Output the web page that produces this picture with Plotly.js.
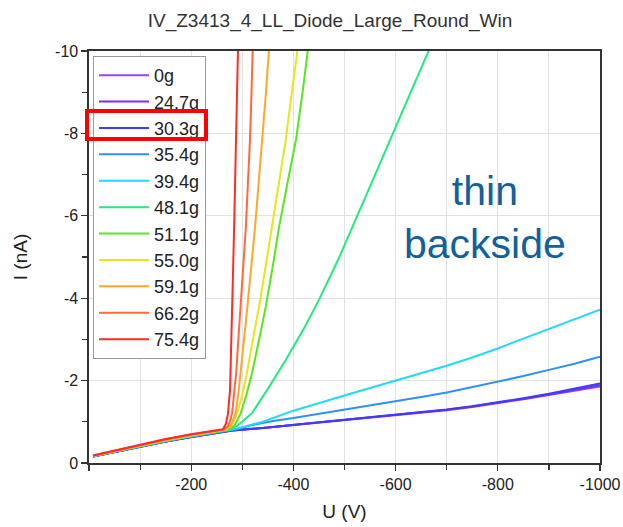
<!DOCTYPE html>
<html>
<head>
<meta charset="utf-8">
<script src="https://cdn.plot.ly/plotly-3.0.1.min.js"></script>
<style>
  html, body { margin: 0; padding: 0; background: #ffffff; }
  #chart { width: 623px; height: 527px; }
</style>
</head>
<body>
<div id="chart"></div>
<script>
// IV curves of the Z3413_4 LL large round-window diode, one sweep per applied load.
var loadLabels = ['0g', '24.7g', '30.3g', '35.4g', '39.4g', '48.1g', '51.1g', '55.0g', '59.1g', '66.2g', '75.4g'];
var lineColors = ['#a040ff', '#7a2cff', '#3c3cff', '#2e8fff', '#22d8ff', '#20ea80', '#5ae61e', '#e6e61a', '#ffa62c', '#ff6a3c', '#ff2a2a'];

// Bias voltage U (V) and current I (nA) for each sweep
var u_0g   = [-8, -50, -100, -150, -200, -250, -280, -350, -400, -450, -500, -550, -600, -650, -700, -750, -800, -850, -900, -950, -1000];
var i_0g   = [-0.16, -0.27, -0.40, -0.52, -0.63, -0.73, -0.79, -0.86, -0.92, -0.97, -1.03, -1.09, -1.15, -1.21, -1.28, -1.36, -1.45, -1.55, -1.65, -1.75, -1.86];
var u_24_7 = [-8, -50, -100, -150, -200, -250, -280, -350, -400, -450, -500, -550, -600, -650, -700, -750, -800, -850, -900, -950, -1000];
var i_24_7 = [-0.16, -0.27, -0.40, -0.52, -0.63, -0.73, -0.79, -0.86, -0.92, -0.98, -1.04, -1.10, -1.16, -1.22, -1.29, -1.37, -1.46, -1.56, -1.66, -1.77, -1.89];
var u_30_3 = [-8, -50, -100, -150, -200, -250, -280, -350, -400, -450, -500, -550, -600, -650, -700, -750, -800, -850, -900, -950, -1000];
var i_30_3 = [-0.16, -0.27, -0.40, -0.52, -0.63, -0.73, -0.79, -0.86, -0.93, -0.99, -1.05, -1.11, -1.17, -1.23, -1.30, -1.38, -1.47, -1.57, -1.68, -1.80, -1.93];
var u_35_4 = [-8, -50, -100, -150, -200, -250, -285, -320, -360, -400, -450, -500, -550, -600, -650, -700, -750, -800, -850, -900, -950, -1000];
var i_35_4 = [-0.16, -0.27, -0.40, -0.53, -0.64, -0.74, -0.81, -0.92, -1.02, -1.09, -1.19, -1.29, -1.39, -1.49, -1.60, -1.71, -1.84, -1.97, -2.11, -2.26, -2.41, -2.58];
var u_39_4 = [-8, -50, -100, -150, -200, -250, -280, -300, -340, -400, -450, -500, -550, -600, -650, -700, -750, -800, -850, -900, -950, -1000];
var i_39_4 = [-0.17, -0.28, -0.41, -0.54, -0.65, -0.75, -0.81, -0.87, -1.00, -1.27, -1.46, -1.64, -1.82, -2.00, -2.18, -2.36, -2.56, -2.78, -3.02, -3.25, -3.48, -3.72];
var u_48_1 = [-8, -50, -100, -150, -200, -250, -275, -290, -319, -350, -385, -420, -450, -490, -522, -560, -600, -635, -665, -675];
var i_48_1 = [-0.17, -0.28, -0.41, -0.54, -0.66, -0.76, -0.81, -0.90, -1.21, -1.80, -2.50, -3.25, -3.96, -5.00, -5.90, -7.00, -8.15, -9.15, -10.0, -10.3];
var u_51_1 = [-8, -50, -100, -150, -200, -250, -272, -285, -297, -308, -319, -333, -346, -360, -372, -390, -405, -418, -427, -431];
var i_51_1 = [-0.17, -0.29, -0.42, -0.55, -0.67, -0.77, -0.82, -0.92, -1.21, -1.65, -2.18, -3.00, -3.80, -4.80, -5.73, -6.90, -7.84, -9.00, -10.0, -10.3];
var u_55_0 = [-8, -50, -100, -150, -200, -250, -268, -280, -290, -300, -309, -320, -333, -346, -358, -372, -385, -397, -407, -411];
var i_55_0 = [-0.17, -0.29, -0.42, -0.55, -0.67, -0.77, -0.81, -0.92, -1.21, -1.65, -2.18, -2.95, -3.80, -4.80, -5.73, -6.85, -7.84, -9.00, -10.0, -10.3];
var u_59_1 = [-8, -50, -100, -150, -200, -250, -266, -278, -287, -292, -297, -303, -310, -318, -325, -332, -339, -346, -352, -354];
var i_59_1 = [-0.17, -0.29, -0.43, -0.56, -0.68, -0.78, -0.81, -0.92, -1.21, -1.65, -2.18, -2.95, -3.80, -4.80, -5.73, -6.80, -7.84, -8.95, -10.0, -10.3];
var u_66_2 = [-8, -50, -100, -150, -200, -250, -264, -272, -277, -280, -284, -288, -292, -297, -302, -307, -311, -315, -318, -320, -321];
var i_66_2 = [-0.18, -0.30, -0.44, -0.57, -0.69, -0.79, -0.81, -0.90, -1.05, -1.21, -1.65, -2.18, -2.95, -3.80, -4.80, -5.73, -6.80, -7.84, -9.00, -10.0, -10.3];
var u_75_4 = [-8, -50, -100, -150, -200, -250, -262, -268, -272, -276, -278, -280, -282, -284, -286, -287, -289, -291, -292];
var i_75_4 = [-0.18, -0.30, -0.45, -0.58, -0.70, -0.79, -0.82, -0.95, -1.20, -1.77, -2.60, -3.80, -4.70, -5.73, -6.80, -7.84, -9.00, -10.0, -10.3];

var uSeries = [u_0g, u_24_7, u_30_3, u_35_4, u_39_4, u_48_1, u_51_1, u_55_0, u_59_1, u_66_2, u_75_4];
var iSeries = [i_0g, i_24_7, i_30_3, i_35_4, i_39_4, i_48_1, i_51_1, i_55_0, i_59_1, i_66_2, i_75_4];

// Axis ticks
var xTickVals = [0, -200, -400, -600, -800, -1000];
var xTickText = ['', '-200', '-400', '-600', '-800', '-1000'];
var yTickVals = [0, -2, -4, -6, -8, -10];
var yTickText = ['0', '-2', '-4', '-6', '-8', '-10'];

var traces = loadLabels.map(function (name, k) {
  return {
    type: 'scatter',
    mode: 'lines',
    name: name,
    x: uSeries[k],
    y: iSeries[k],
    line: { color: lineColors[k], width: 2 },
    hoverinfo: 'skip'
  };
});

var FONT = 'Arial, "Liberation Sans", sans-serif';
var axisColor = '#333333';
var gridColor = '#e2e2e2';

var layout = {
  width: 623,
  height: 527,
  paper_bgcolor: '#ffffff',
  plot_bgcolor: '#ffffff',
  margin: { l: 89, r: 23, t: 51, b: 64 },
  font: { family: FONT, color: '#222222', size: 16 },
  title: {
    text: 'IV_Z3413_4_LL_Diode_Large_Round_Win',
    font: { family: FONT, size: 19, color: '#333333' },
    x: 0.4716, xref: 'paper', xanchor: 'center',
    y: 0.962, yref: 'container', yanchor: 'middle'
  },
  xaxis: {
    range: [0, -1000],
    autorange: false,
    tickmode: 'array',
    tickvals: xTickVals,
    ticktext: xTickText,
    ticks: 'outside', ticklen: 6, tickwidth: 1.2, tickcolor: axisColor,
    showline: true, linecolor: axisColor, linewidth: 1.6, mirror: true,
    showgrid: true, gridcolor: gridColor, gridwidth: 1,
    minor: { tickmode: 'array', tickvals: [-100, -300, -500, -700, -900], ticks: 'outside', ticklen: 5, tickcolor: axisColor, showgrid: true, gridcolor: gridColor, gridwidth: 1 },
    zeroline: false,
    tickfont: { size: 16, color: '#222222' },
    title: { text: 'U (V)', font: { size: 19, color: '#222222' }, standoff: 13 }
  },
  yaxis: {
    range: [0, -10],
    autorange: false,
    tickmode: 'array',
    tickvals: yTickVals,
    ticktext: yTickText,
    ticks: 'outside', ticklen: 6, tickwidth: 1.2, tickcolor: axisColor,
    showline: true, linecolor: axisColor, linewidth: 1.6, mirror: true,
    showgrid: true, gridcolor: gridColor, gridwidth: 1,
    minor: { tickmode: 'array', tickvals: [-1, -3, -5, -7, -9], ticks: 'outside', ticklen: 5, tickcolor: axisColor, showgrid: false },
    zeroline: false,
    tickfont: { size: 16, color: '#222222' },
    title: { text: 'I (nA)', font: { size: 19, color: '#222222' }, standoff: 22 }
  },
  legend: {
    x: 0.0078, y: 0.988, xanchor: 'left', yanchor: 'top',
    bgcolor: '#ffffff', bordercolor: '#999999', borderwidth: 1,
    font: { family: FONT, size: 18, color: '#222222' },
    tracegroupgap: 0,
    itemwidth: 50
  },
  annotations: [
    {
      // sample description written inside the plot
      text: 'thin<br>backside',
      xref: 'paper', yref: 'paper', x: 0.775, y: 0.595,
      xanchor: 'center', yanchor: 'middle', showarrow: false,
      font: { family: FONT, size: 41, color: '#12609e' }
    },
    {
      // red highlight box around the 30.3g legend entry
      text: '',
      xref: 'paper', yref: 'paper', x: 0.1125, y: 0.8214,
      xanchor: 'center', yanchor: 'middle', showarrow: false,
      width: 115, height: 24,
      bordercolor: '#ff0000', borderwidth: 4, borderpad: 0
    }
  ],
  showlegend: true
};

Plotly.newPlot('chart', traces, layout, { displayModeBar: false, staticPlot: true });
</script>
</body>
</html>
